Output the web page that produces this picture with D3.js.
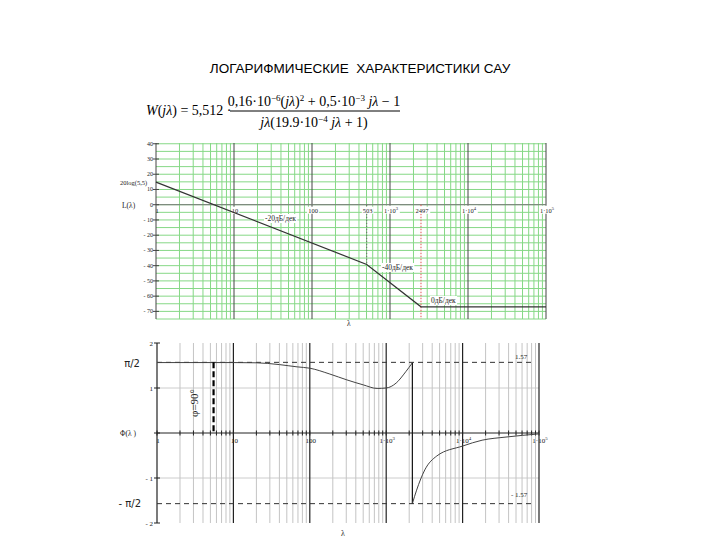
<!DOCTYPE html>
<html><head><meta charset="utf-8">
<script src="https://cdn.jsdelivr.net/npm/d3@7"></script>
<style>body{margin:0;background:#fff}svg{display:block}</style>
</head><body>
<svg id="c" width="720" height="540"></svg>
<script>
// ---- data ----
const titleText = "ЛОГАРИФМИЧЕСКИЕ  ХАРАКТЕРИСТИКИ САУ";
// amplitude (asymptotic LAFC): breakpoints
const ampLambda = [1, 503, 2497, 100000];
const ampL = [14.8, -39.2, -67.0, -67.0];
const ampYTicks = [40, 30, 20, 10, 0, -10, -20, -30, -40, -50, -60, -70];
const ampXTicks = [1, 10, 100, 503, 1000, 2497, 10000, 100000];
const ampXLabels = [["1"], ["10"], ["100"], ["503"], ["1·10", "3"], ["2497"], ["1·10", "4"], ["1·10", "5"]];
const slopeLabels = ["-20дБ/дек", "-40дБ/дек", "0дБ/дек"];
// phase curve (two branches)
const phLambda1 = [1, 10, 20, 40, 68, 100, 183, 306, 500, 760, 1000, 1350, 1800, 2200];
const phPhi1 = [1.565, 1.565, 1.56, 1.52, 1.47, 1.44, 1.31, 1.18, 1.07, 0.99, 1.0, 1.11, 1.36, 1.56];
const phLambda2 = [2200, 2500, 3200, 4600, 10000, 18000, 37000, 100000];
const phPhi2 = [-1.57, -1.27, -0.82, -0.51, -0.29, -0.16, -0.09, -0.02];
const phYTicks = [2, 1, 0, -1, -2];
const phYLabels = ["2", "1", "", "- 1", "- 2"];
const phXTicks = [1, 10, 100, 1000, 10000, 100000];
const phXLabels = [["1"], ["10"], ["100"], ["1·10", "3"], ["1·10", "4"], ["1·10", "5"]];
const halfPi = 1.57;
const markLambda = 5.5;

const svg = d3.select("#c");
const serif = "Liberation Serif, DejaVu Serif, serif";
const minors = [];
for (let k = 0; k < 5; k++) for (let m = 2; m <= 9; m++) minors.push(m * Math.pow(10, k));
const decades = [1, 10, 100, 1000, 10000, 100000];

function bg(textSel, pad) {
  textSel.each(function () {
    const b = this.getBBox();
    d3.select(this.parentNode).insert("rect", () => this)
      .attr("x", b.x - pad).attr("y", b.y).attr("width", b.width + 2 * pad).attr("height", b.height)
      .attr("fill", "#fff");
  });
}

// ---- title ----
svg.append("text").attr("x", 360).attr("y", 73).attr("text-anchor", "middle")
  .attr("font-family", "Liberation Sans, Arial, sans-serif").attr("font-size", 13.5)
  .attr("xml:space", "preserve").text(titleText);

// ---- formula ----
const f = svg.append("g").attr("font-family", serif).attr("font-size", 14);
const lt = f.append("text").attr("x", 146).attr("y", 115);
lt.append("tspan").attr("font-style", "italic").text("W");
lt.append("tspan").text("(");
lt.append("tspan").attr("font-style", "italic").text("jλ");
lt.append("tspan").text(") = 5,512 ·");
const nt = f.append("text").attr("x", 314).attr("y", 106).attr("text-anchor", "middle");
nt.append("tspan").text("0,16·10");
nt.append("tspan").attr("font-size", 9).attr("dy", -5).text("−6");
nt.append("tspan").attr("dy", 5).text("(");
nt.append("tspan").attr("font-style", "italic").text("jλ");
nt.append("tspan").text(")");
nt.append("tspan").attr("font-size", 9).attr("dy", -5).text("2");
nt.append("tspan").attr("dy", 5).text(" + 0,5·10");
nt.append("tspan").attr("font-size", 9).attr("dy", -5).text("−3");
nt.append("tspan").attr("dy", 5).attr("font-style", "italic").text(" jλ");
nt.append("tspan").text(" − 1");
f.append("line").attr("x1", 230).attr("x2", 400).attr("y1", 111).attr("y2", 111).attr("stroke", "#000").attr("stroke-width", 1);
const dt = f.append("text").attr("x", 314).attr("y", 127).attr("text-anchor", "middle");
dt.append("tspan").attr("font-style", "italic").text("jλ");
dt.append("tspan").text("(19.9·10");
dt.append("tspan").attr("font-size", 9).attr("dy", -5).text("−4");
dt.append("tspan").attr("dy", 5).attr("font-style", "italic").text(" jλ");
dt.append("tspan").text(" + 1)");

function supLabel(sel, parts) {
  sel.append("tspan").text(parts[0]);
  if (parts[1]) sel.append("tspan").attr("font-size", "0.7em").attr("dy", -3).text(parts[1]);
}

// ---- top chart (amplitude) ----
const xA = d3.scaleLog().domain([1, 1e5]).range([156, 546]);
const yA = d3.scaleLinear().domain([-75, 40.5]).range([319, 143]);
const gA = svg.append("g");
const green = "#86d886";
const hLines = d3.range(-75, 41, 5);
gA.selectAll(".hg").data(hLines).join("line")
  .attr("x1", xA(1)).attr("x2", xA(1e5)).attr("y1", d => yA(d)).attr("y2", d => yA(d))
  .attr("stroke", green).attr("stroke-width", 1);
gA.selectAll(".vg").data(minors).join("line")
  .attr("x1", d => xA(d)).attr("x2", d => xA(d)).attr("y1", yA(40.5)).attr("y2", yA(-75))
  .attr("stroke", green).attr("stroke-width", 1);
gA.selectAll(".vd").data(decades).join("line")
  .attr("x1", d => xA(d)).attr("x2", d => xA(d)).attr("y1", yA(40.5)).attr("y2", yA(-75))
  .attr("stroke", "#444").attr("stroke-width", 1);
// zero axis
gA.append("line").attr("x1", xA(1)).attr("x2", xA(1e5)).attr("y1", yA(0)).attr("y2", yA(0))
  .attr("stroke", "#777").attr("stroke-width", 1);
gA.selectAll(".yt").data(ampYTicks).join("line")
  .attr("x1", xA(1) - 3).attr("x2", xA(1) + 3).attr("y1", d => yA(d)).attr("y2", d => yA(d))
  .attr("stroke", "#444");
gA.selectAll(".ytl").data(ampYTicks).join("text")
  .attr("x", xA(1) - 3).attr("y", d => yA(d) + 2).attr("text-anchor", "end")
  .attr("font-family", serif).attr("font-size", 6).attr("fill", "#222")
  .text(d => d < 0 ? "- " + (-d) : d);
// guide lines
gA.append("line").attr("x1", xA(503)).attr("x2", xA(503)).attr("y1", yA(0)).attr("y2", yA(ampL[1]))
  .attr("stroke", "#666").attr("stroke-dasharray", "1.5,1.5").attr("stroke-width", 1);
gA.append("line").attr("x1", xA(2497)).attr("x2", xA(2497)).attr("y1", yA(0)).attr("y2", yA(-75))
  .attr("stroke", "#e05050").attr("stroke-dasharray", "1.5,1.5").attr("stroke-width", 1);
const xlA = gA.selectAll(".xtl").data(ampXTicks).join("text")
  .attr("x", d => xA(d) + 1).attr("y", yA(0) + 8).attr("text-anchor", "middle")
  .attr("font-family", serif).attr("font-size", 6.5).attr("fill", "#222")
  .each(function (d, i) { supLabel(d3.select(this), ampXLabels[i]); });
bg(xlA.filter((d, i) => i > 0), 1);
// curve
const lineA = d3.line().x(d => xA(d[0])).y(d => yA(d[1]));
gA.append("path").datum(ampLambda.map((l, i) => [l, ampL[i]])).attr("d", lineA)
  .attr("fill", "none").attr("stroke", "#333").attr("stroke-width", 1.2);
// labels
const lab = (x, y, t, fs) => svg.append("text").attr("x", x).attr("y", y)
  .attr("font-family", serif).attr("font-size", fs || 7).attr("fill", "#222").text(t);
lab(120, 185, "20log(5,5)", 6.5);
lab(122, 208, "L(λ)", 7.5);
bg(lab(265, 221, slopeLabels[0], 7.5), 1);
bg(lab(382, 270, slopeLabels[1], 7.5), 1);
bg(lab(431, 303, slopeLabels[2], 7.5), 1);
lab(347, 326, "λ", 7.5);

// ---- bottom chart (phase) ----
const xP = d3.scaleLog().domain([1, 1e5]).range([157, 539]);
const yP = d3.scaleLinear().domain([-2, 2]).range([523, 343]);
const gP = svg.append("g");
[1, -1].forEach(v => gP.append("line").attr("x1", xP(1)).attr("x2", xP(1e5))
  .attr("y1", yP(v)).attr("y2", yP(v)).attr("stroke", "#cccccc"));
gP.selectAll(".pvg").data(minors).join("line")
  .attr("x1", d => xP(d)).attr("x2", d => xP(d)).attr("y1", yP(2)).attr("y2", yP(-2))
  .attr("stroke", "#c4c4c4").attr("stroke-width", 1);
gP.selectAll(".pvd").data(decades).join("line")
  .attr("x1", d => xP(d)).attr("x2", d => xP(d)).attr("y1", yP(2)).attr("y2", yP(-2))
  .attr("stroke", "#222").attr("stroke-width", 1.2);
// pi/2 dashed
[halfPi, -halfPi].forEach(v => gP.append("line").attr("x1", xP(1)).attr("x2", 535)
  .attr("y1", yP(v)).attr("y2", yP(v)).attr("stroke", "#333").attr("stroke-dasharray", "5,4").attr("stroke-width", 1));
// zero axis
gP.append("line").attr("x1", xP(1)).attr("x2", xP(1e5)).attr("y1", yP(0)).attr("y2", yP(0))
  .attr("stroke", "#222").attr("stroke-width", 1);
gP.selectAll(".pxt").data(minors.concat(decades)).join("line")
  .attr("x1", d => xP(d)).attr("x2", d => xP(d)).attr("y1", yP(0) - 2.5).attr("y2", yP(0) + 2.5)
  .attr("stroke", "#222").attr("stroke-width", 1);
gP.selectAll(".pyt").data(phYTicks).join("line")
  .attr("x1", xP(1) - 3).attr("x2", xP(1) + 3).attr("y1", d => yP(d)).attr("y2", d => yP(d))
  .attr("stroke", "#222");
gP.selectAll(".pytl").data(phYTicks).join("text")
  .attr("x", xP(1) - 4).attr("y", d => yP(d) + 2.5).attr("text-anchor", "end")
  .attr("font-family", serif).attr("font-size", 7).attr("fill", "#222")
  .text((d, i) => phYLabels[i]);
gP.selectAll(".pxtl").data(phXTicks).join("text")
  .attr("x", d => xP(d) + 1).attr("y", yP(0) + 10).attr("text-anchor", "middle")
  .attr("font-family", serif).attr("font-size", 7).attr("fill", "#222")
  .each(function (d, i) { supLabel(d3.select(this), phXLabels[i]); });
// phase curve
const lineP = d3.line().x(d => xP(d[0])).y(d => yP(d[1])).curve(d3.curveMonotoneX);
gP.append("path").datum(phLambda1.map((l, i) => [l, phPhi1[i]])).attr("d", lineP)
  .attr("fill", "none").attr("stroke", "#444").attr("stroke-width", 1);
gP.append("line").attr("x1", xP(2200)).attr("x2", xP(2200))
  .attr("y1", yP(phPhi1[phPhi1.length - 1])).attr("y2", yP(phPhi2[0]))
  .attr("stroke", "#111").attr("stroke-width", 1.2);
gP.append("path").datum(phLambda2.map((l, i) => [l, phPhi2[i]])).attr("d", lineP)
  .attr("fill", "none").attr("stroke", "#444").attr("stroke-width", 1);
// marker line phi=90
gP.append("line").attr("x1", xP(markLambda)).attr("x2", xP(markLambda))
  .attr("y1", yP(halfPi)).attr("y2", yP(0))
  .attr("stroke", "#000").attr("stroke-width", 2.2).attr("stroke-dasharray", "6,3");
svg.append("text").attr("transform", `translate(198,403) rotate(-90)`).attr("text-anchor", "middle")
  .attr("font-family", serif).attr("font-size", 11).attr("fill", "#222").text("φ=90°");
// labels
const labS = (x, y, t, fs, anchor) => svg.append("text").attr("x", x).attr("y", y)
  .attr("text-anchor", anchor || "start")
  .attr("font-family", "DejaVu Sans, sans-serif").attr("font-size", fs).attr("fill", "#222").text(t);
labS(140, 367, "π/2", 10, "end");
labS(141, 507, "- π/2", 10, "end");
lab(120, 436, "Φ(λ )", 7.5);
lab(515, 359, "1.57", 7);
lab(511, 497, "- 1.57", 7);
lab(341, 536, "λ", 8);
</script>
</body></html>
